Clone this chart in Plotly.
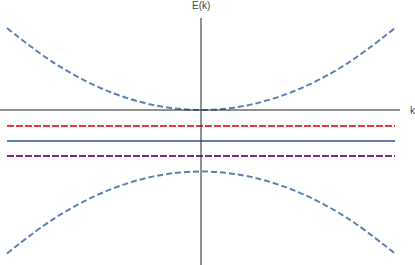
import plotly.graph_objects as go

k_vals = [-2.0, -1.5, -1.0, -0.5, 0.0, 0.5, 1.0, 1.5, 2.0]
upper_band = [4.0, 2.25, 1.0, 0.25, 0.0, 0.25, 1.0, 2.25, 4.0]
lower_band = [-7.0, -5.25, -4.0, -3.25, -3.0, -3.25, -4.0, -5.25, -7.0]
flat_k = [-2.0, 2.0]
red_level = [-0.78, -0.78]
blue_level = [-1.51, -1.51]
purple_level = [-2.24, -2.24]

blue = "#5E81B5"

fig = go.Figure()

fig.add_trace(go.Scatter(x=k_vals, y=upper_band, mode="lines",
                         line=dict(color=blue, width=2, dash="6px,3px", shape="spline")))
fig.add_trace(go.Scatter(x=k_vals, y=lower_band, mode="lines",
                         line=dict(color=blue, width=2, dash="6px,3px", shape="spline")))
fig.add_trace(go.Scatter(x=flat_k, y=red_level, mode="lines",
                         line=dict(color="#E4393E", width=2, dash="7px,2px")))
fig.add_trace(go.Scatter(x=flat_k, y=blue_level, mode="lines",
                         line=dict(color=blue, width=2)))
fig.add_trace(go.Scatter(x=flat_k, y=purple_level, mode="lines",
                         line=dict(color="#7D2A92", width=2, dash="7px,2px")))

# axes drawn through the origin
fig.add_shape(type="line", x0=-2.08, x1=2.05, y0=0, y1=0,
              line=dict(color="#222222", width=1))
fig.add_shape(type="line", x0=0, x1=0, y0=4.49, y1=-7.6,
              line=dict(color="#222222", width=1))

fig.add_annotation(x=0, y=4.75, text="E(k)", showarrow=False, yanchor="bottom",
                   font=dict(size=10, color="#444444"))
fig.add_annotation(x=2.13, y=0, text="k", showarrow=False, xanchor="left",
                   font=dict(size=10, color="#444444"))

fig.update_layout(
    width=415,
    height=265,
    margin=dict(l=0, r=0, t=0, b=0, autoexpand=False),
    showlegend=False,
    plot_bgcolor="white",
    paper_bgcolor="white",
    font=dict(family="Liberation Sans, Arial, sans-serif"),
    xaxis=dict(range=[-2.072, 2.206], visible=False, fixedrange=True),
    yaxis=dict(range=[-7.561, 5.366], visible=False, fixedrange=True),
)

# drop the browser's default page margin so the figure sits at the corner
fig.write_html("out.html", config={"displayModeBar": False},
               post_script="document.body.style.margin='0';")
